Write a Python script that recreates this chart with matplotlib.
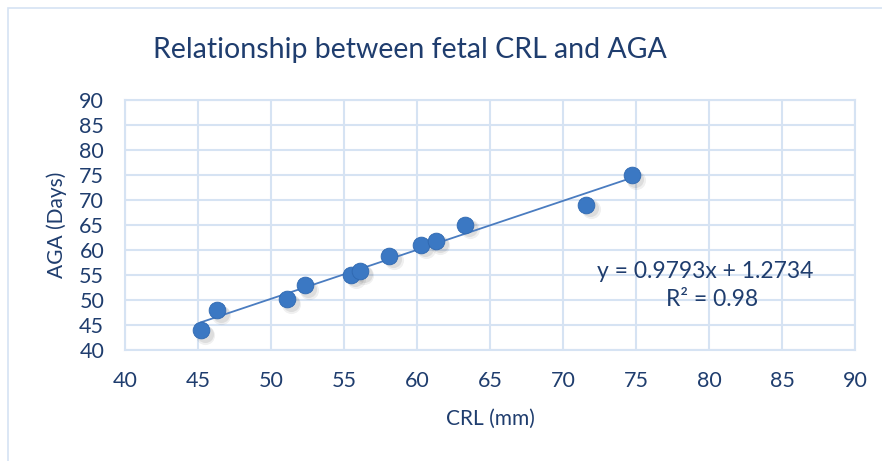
import matplotlib
matplotlib.use("Agg")
import matplotlib.pyplot as plt
import numpy as np
from matplotlib.patches import Rectangle

crl_mm = [45.2, 46.3, 51.1, 52.3, 55.5, 56.1, 58.1, 60.3, 61.3, 63.3, 71.6, 74.7]
aga_days = [44.0, 48.0, 50.2, 53.0, 55.1, 55.9, 58.9, 61.1, 61.9, 65.1, 69.1, 75.0]
slope = 0.9793
intercept = 1.2734
r2_text = "R² = 0.98"
x_ticks = list(range(40, 91, 5))
y_ticks = list(range(40, 91, 5))

plt.rcParams['font.family'] = ['Lato', 'DejaVu Sans']
text_color = '#1F3D6E'
grid_color = '#D6E3F3'
marker_color = '#3B78C3'
line_color = '#4A7CC0'

W, H = 882, 461
fig = plt.figure(figsize=(8.82, 4.61), dpi=100)
fig.patches.append(Rectangle((8/W, -0.1), 1.2, 1 - 8/H + 0.1, transform=fig.transFigure,
                             fill=False, edgecolor='#D6E3F3', linewidth=1.2))
ax = fig.add_axes([125/W, 1 - 350/H, 730/W, 250/H])
ax.set_xlim(40, 90)
ax.set_ylim(40, 90)
ax.set_xticks(x_ticks)
ax.set_yticks(y_ticks)
ax.grid(True, color=grid_color, linewidth=1.5)
ax.set_axisbelow(True)
for s in ax.spines.values():
    s.set_color(grid_color)
    s.set_linewidth(1.5)
ax.tick_params(length=0, labelsize=15.5, colors=text_color)
ax.tick_params(axis='x', pad=15)
ax.tick_params(axis='y', pad=15)

x = np.array(crl_mm)
y = np.array(aga_days)
# soft shadow
for dx, dy, a, s in [(0.3, -0.9, 0.06, 190), (0.25, -0.75, 0.08, 150)]:
    ax.scatter(x + dx, y + dy, s=s, color='#000000', alpha=a, linewidths=0, zorder=2)
ax.scatter(x, y, s=145, color=marker_color, edgecolors='#2F68B0', linewidths=0.6, zorder=4)
xl = np.array([x.min(), x.max()])
ax.plot(xl, slope * xl + intercept, color=line_color, linewidth=1.3, zorder=3)

fig.text(705/W, 1 - 272/H, f"y = {slope}x + {intercept}", fontsize=16.5,
         color=text_color, ha='center', va='center')
fig.text(712/W, 1 - 300/H, r2_text, fontsize=16.5, color=text_color, ha='center', va='center')

ax.set_xlabel("CRL (mm)", fontsize=15, color=text_color, labelpad=13)
ax.set_ylabel("AGA (Days)", fontsize=15, color=text_color, labelpad=9)
fig.text(410/W, 1 - 50/H, "Relationship between fetal CRL and AGA", fontsize=20.5,
         color=text_color, ha='center', va='center')

fig.savefig("out.png", dpi=100)
